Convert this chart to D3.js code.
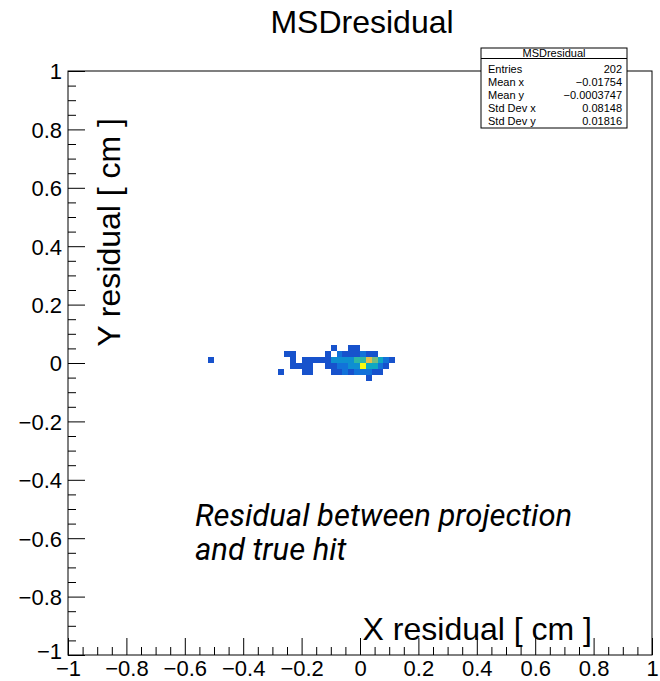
<!DOCTYPE html>
<html><head><meta charset="utf-8">
<script src="https://cdn.jsdelivr.net/npm/d3@7"></script>
<style>body{margin:0;background:#fff} svg{display:block}</style>
</head><body>
<script>
// ---- data ----
const binWidth = 0.02;
// lower-left corners of filled bins (x, y) and bin contents
const binX = [
  -0.10, -0.04, -0.02,
  -0.26, -0.24, -0.12, -0.08, -0.06, -0.04, -0.02, 0.00, 0.02, 0.04,
  -0.52, -0.24, -0.20, -0.18, -0.16, -0.14, -0.12, -0.10, -0.08, -0.06, -0.04, -0.02, 0.00, 0.02, 0.04, 0.06, 0.08, 0.10,
  -0.24, -0.22, -0.20, -0.18, -0.12, -0.10, -0.08, -0.06, -0.04, -0.02, 0.00, 0.02, 0.04, 0.06, 0.08,
  -0.28, -0.20, -0.18, -0.10, -0.08, -0.06, -0.04, -0.02, 0.00, 0.02, 0.04, 0.06,
  0.02
];
const binY = [
  0.04, 0.04, 0.04,
  0.02, 0.02, 0.02, 0.02, 0.02, 0.02, 0.02, 0.02, 0.02, 0.02,
  0.00, 0.00, 0.00, 0.00, 0.00, 0.00, 0.00, 0.00, 0.00, 0.00, 0.00, 0.00, 0.00, 0.00, 0.00, 0.00, 0.00, 0.00,
  -0.02, -0.02, -0.02, -0.02, -0.02, -0.02, -0.02, -0.02, -0.02, -0.02, -0.02, -0.02, -0.02, -0.02, -0.02,
  -0.04, -0.04, -0.04, -0.04, -0.04, -0.04, -0.04, -0.04, -0.04, -0.04, -0.04, -0.04,
  -0.06
];
const binCount = [
  1, 1, 1,
  1, 1, 1, 2, 1, 1, 1, 2, 1, 1,
  1, 1, 1, 1, 1, 1, 1, 3, 3, 3, 3, 5, 5, 8, 6, 4, 2, 1,
  1, 1, 1, 1, 1, 1, 2, 2, 3, 3, 10, 4, 4, 2, 1,
  1, 1, 1, 1, 1, 2, 1, 2, 2, 2, 1, 1,
  1
];
const xTicks = [-1, -0.8, -0.6, -0.4, -0.2, 0, 0.2, 0.4, 0.6, 0.8, 1];
const yTicks = [-1, -0.8, -0.6, -0.4, -0.2, 0, 0.2, 0.4, 0.6, 0.8, 1];
const minorTicks = d3.range(-100, 101, 5).map(v => v / 100);
const statsLabels = ["Entries", "Mean x", "Mean y", "Std Dev x", "Std Dev y"];
const statsValues = ["202", "\u22120.01754", "\u22120.0003747", "0.08148", "0.01816"];
// ROOT kBird palette stops
const birdStops = [0, 0.125, 0.25, 0.375, 0.5, 0.625, 0.75, 0.875, 1];
const birdR = [0.2082, 0.0592, 0.0780, 0.0232, 0.1802, 0.5301, 0.8186, 0.9956, 0.9764];
const birdG = [0.1664, 0.3599, 0.5041, 0.6419, 0.7178, 0.7492, 0.7328, 0.7862, 0.9832];
const birdB = [0.5293, 0.8684, 0.8385, 0.7914, 0.6425, 0.4662, 0.3499, 0.1968, 0.0539];

// ---- layout ----
const W = 660, H = 681;
const frame = {left: 68, right: 652, top: 71, bottom: 655};
const svg = d3.select("body").append("svg").attr("width", W).attr("height", H);

const x = d3.scaleLinear().domain([-1, 1]).range([frame.left, frame.right]);
const y = d3.scaleLinear().domain([-1, 1]).range([frame.bottom, frame.top]);

const palette = d3.scaleLinear()
  .domain(birdStops)
  .range(birdStops.map((s, k) => d3.rgb(birdR[k] * 255, birdG[k] * 255, birdB[k] * 255)))
  .interpolate(d3.interpolateRgb);
const zmax = d3.max(binCount);

// bins
const bins = binX.map((bx, k) => ({x: bx, y: binY[k], c: binCount[k]}));
svg.append("g").selectAll("rect").data(bins).join("rect")
  .attr("x", d => x(d.x))
  .attr("y", d => y(d.y + binWidth))
  .attr("width", d => x(d.x + binWidth) - x(d.x))
  .attr("height", d => y(d.y) - y(d.y + binWidth))
  .attr("fill", d => palette(d.c / zmax))
  .attr("shape-rendering", "crispEdges");

// frame
svg.append("rect")
  .attr("x", frame.left).attr("y", frame.top)
  .attr("width", frame.right - frame.left).attr("height", frame.bottom - frame.top)
  .attr("fill", "none").attr("stroke", "#000").attr("stroke-width", 1);

const fmt = d3.format(".1~f");
const labelFont = "'Liberation Sans', Arial, sans-serif";

// y axis: major + minor ticks, inward
const yMajor = svg.append("g").attr("transform", `translate(${frame.left},0)`)
  .call(d3.axisLeft(y).tickValues(yTicks).tickSizeInner(-17).tickSizeOuter(0).tickPadding(6).tickFormat(fmt));
const yMinor = svg.append("g").attr("transform", `translate(${frame.left},0)`)
  .call(d3.axisLeft(y).tickValues(minorTicks.filter(v => !yTicks.some(t => Math.abs(t - v) < 1e-9))).tickSizeInner(-8).tickSizeOuter(0).tickFormat(""));
const xMajor = svg.append("g").attr("transform", `translate(0,${frame.bottom})`)
  .call(d3.axisBottom(x).tickValues(xTicks).tickSizeInner(-17).tickSizeOuter(0).tickPadding(5).tickFormat(fmt));
const xMinor = svg.append("g").attr("transform", `translate(0,${frame.bottom})`)
  .call(d3.axisBottom(x).tickValues(minorTicks.filter(v => !xTicks.some(t => Math.abs(t - v) < 1e-9))).tickSizeInner(-8).tickSizeOuter(0).tickFormat(""));
[yMajor, yMinor, xMajor, xMinor].forEach(g => {
  g.select(".domain").remove();
  g.selectAll("line").attr("stroke", "#000");
  g.selectAll("text").attr("font-family", labelFont).attr("font-size", 22).attr("fill", "#000");
});
yMajor.selectAll("text").attr("dy", d => d === -1 ? "0.18em" : "0.36em");
xMajor.selectAll("text").attr("dy", "0.72em");

// title
svg.append("text").attr("x", 362).attr("y", 33).attr("text-anchor", "middle")
  .attr("font-family", labelFont).attr("font-size", 32).text("MSDresidual");

// axis titles
svg.append("text").attr("x", 592).attr("y", 640).attr("text-anchor", "end")
  .attr("font-family", labelFont).attr("font-size", 32).text("X residual [ cm ]");
svg.append("text").attr("transform", "translate(120,118) rotate(-90)").attr("text-anchor", "end")
  .attr("font-family", labelFont).attr("font-size", 32).text("Y residual [ cm ]");

// annotation
const note = svg.append("text").attr("font-family", "Roboto, sans-serif").attr("font-style", "italic")
  .attr("font-size", 31).attr("fill", "#000");
note.append("tspan").attr("x", 195).attr("y", 526).text("Residual between projection");
note.append("tspan").attr("x", 195).attr("y", 560).text("and true hit");

// stats box
const sb = {left: 481, right: 627, top: 48, bottom: 128, head: 58.5};
svg.append("rect").attr("x", sb.left).attr("y", sb.top).attr("width", sb.right - sb.left)
  .attr("height", sb.bottom - sb.top).attr("fill", "#fff").attr("stroke", "#000").attr("stroke-width", 1);
svg.append("line").attr("x1", sb.left).attr("x2", sb.right).attr("y1", sb.head).attr("y2", sb.head).attr("stroke", "#000");
svg.append("text").attr("x", (sb.left + sb.right) / 2).attr("y", 57).attr("text-anchor", "middle")
  .attr("font-family", labelFont).attr("font-size", 11).text("MSDresidual");
const rowY = d3.scaleLinear().domain([0, statsLabels.length - 1]).range([73, 125]);
statsLabels.forEach((lab, k) => {
  svg.append("text").attr("x", 488).attr("y", rowY(k)).attr("font-family", labelFont).attr("font-size", 11).text(lab);
  svg.append("text").attr("x", 622).attr("y", rowY(k)).attr("text-anchor", "end").attr("font-family", labelFont).attr("font-size", 11).text(statsValues[k]);
});
</script>
</body></html>
